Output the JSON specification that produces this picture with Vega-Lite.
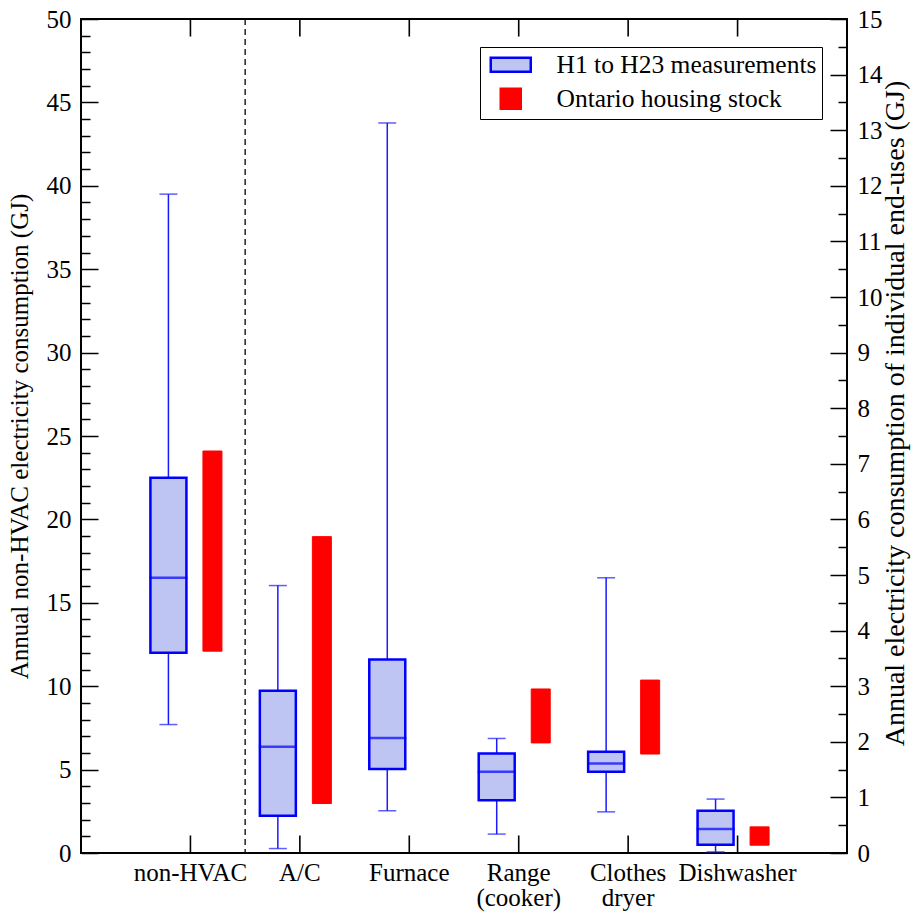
{
  "$schema": "https://vega.github.io/schema/vega-lite/v6.json",
  "width": 766,
  "height": 834,
  "autosize": {"type": "none"},
  "padding": {"left": 81, "top": 19, "right": 73, "bottom": 64},
  "background": "white",
  "config": {
    "view": {"stroke": "black", "strokeWidth": 2},
    "font": "Liberation Serif",
    "axis": {
      "labelFont": "Liberation Serif",
      "titleFont": "Liberation Serif",
      "labelFontSize": 25,
      "titleFontSize": 25,
      "titleFontWeight": "normal",
      "labelColor": "black",
      "titleColor": "black",
      "tickColor": "black",
      "tickWidth": 1.5,
      "tickOpacity": 1,
      "grid": false,
      "domain": false,
      "labelOverlap": false,
      "labelFlush": false
    }
  },
  "datasets": {
    "nonhvac_box": [
      {"category": "non-HVAC", "series": "H1 to H23 measurements", "min": 7.7, "q1": 12.0, "median": 16.5, "q3": 22.5, "max": 39.5}
    ],
    "nonhvac_stock": [
      {"category": "non-HVAC", "series": "Ontario housing stock", "low": 12.1, "high": 24.1}
    ],
    "enduse_box": [
      {"category": "A/C", "series": "H1 to H23 measurements", "min": 0.08, "q1": 0.67, "median": 1.91, "q3": 2.92, "max": 4.81},
      {"category": "Furnace", "series": "H1 to H23 measurements", "min": 0.76, "q1": 1.51, "median": 2.07, "q3": 3.48, "max": 13.13},
      {"category": "Range (cooker)", "series": "H1 to H23 measurements", "min": 0.34, "q1": 0.95, "median": 1.46, "q3": 1.79, "max": 2.06},
      {"category": "Clothes dryer", "series": "H1 to H23 measurements", "min": 0.74, "q1": 1.46, "median": 1.61, "q3": 1.82, "max": 4.95},
      {"category": "Dishwasher", "series": "H1 to H23 measurements", "min": 0.02, "q1": 0.15, "median": 0.43, "q3": 0.76, "max": 0.97}
    ],
    "enduse_stock": [
      {"category": "A/C", "series": "Ontario housing stock", "low": 0.89, "high": 5.69},
      {"category": "Range (cooker)", "series": "Ontario housing stock", "low": 1.98, "high": 2.95},
      {"category": "Clothes dryer", "series": "Ontario housing stock", "low": 1.78, "high": 3.11},
      {"category": "Dishwasher", "series": "Ontario housing stock", "low": 0.14, "high": 0.47}
    ]
  },
  "layer": [
    {
      "data": {"name": "nonhvac_box"},
      "layer": [
        {
          "mark": {"type": "rule", "strokeDash": [6, 4], "color": "black", "strokeWidth": 1.3},
          "encoding": {
            "x": {"field": "category", "type": "nominal", "bandPosition": 1, "scale": {"domain": ["non-HVAC", "A/C", "Furnace", "Range (cooker)", "Clothes dryer", "Dishwasher"], "paddingInner": 0, "paddingOuter": 0.5}, "axis": null}
          }
        },
        {
          "mark": {"type": "rule", "color": "black", "strokeWidth": 1.6},
          "encoding": {
            "x": {"field": "category", "type": "nominal", "bandPosition": 0.5, "axis": null},
            "y": {"datum": 0, "type": "quantitative", "axis": null},
            "y2": {"datum": 1.05}
          }
        },
        {
          "mark": {"type": "rule", "color": "black", "strokeWidth": 1.6},
          "encoding": {
            "x": {"field": "category", "type": "nominal", "bandPosition": 0.5, "axis": null},
            "y": {"datum": 50, "type": "quantitative", "axis": null},
            "y2": {"datum": 48.95}
          }
        },
        {
          "mark": {"type": "rule", "color": "#1a1aff", "strokeWidth": 1.5},
          "encoding": {
            "x": {"field": "category", "type": "nominal", "scale": {"domain": ["non-HVAC", "A/C", "Furnace", "Range (cooker)", "Clothes dryer", "Dishwasher"], "paddingInner": 0, "paddingOuter": 0.5},
              "axis": {"orient": "bottom", "title": null, "ticks": false, "labelPadding": 7, "labelLineHeight": 25, "labelAngle": 0,
                "labelExpr": "datum.value == 'Range (cooker)' ? ['Range', '(cooker)'] : datum.value == 'Clothes dryer' ? ['Clothes', 'dryer'] : datum.label"}},
            "xOffset": {"field": "series", "type": "nominal", "scale": {"domain": ["H1 to H23 measurements", "Ontario housing stock"], "paddingInner": 0, "paddingOuter": 0.243}},
            "y": {"field": "min", "type": "quantitative", "scale": {"domain": [0, 50], "nice": false, "zero": true},
              "axis": {"orient": "left", "title": "Annual non-HVAC electricity consumption (GJ)", "values": [0, 5, 10, 15, 20, 25, 30, 35, 40, 45, 50], "tickSize": -17, "labelPadding": 27, "titlePadding": 14}},
            "y2": {"field": "max"}
          }
        },
        {
          "mark": {"type": "tick", "color": "#1a1aff", "thickness": 1.5, "size": 18},
          "encoding": {
            "x": {"field": "category", "type": "nominal", "axis": null},
            "xOffset": {"field": "series", "type": "nominal"},
            "y": {"field": "min", "type": "quantitative", "axis": null}
          }
        },
        {
          "mark": {"type": "tick", "color": "#1a1aff", "thickness": 1.5, "size": 18},
          "encoding": {
            "x": {"field": "category", "type": "nominal", "axis": null},
            "xOffset": {"field": "series", "type": "nominal"},
            "y": {"field": "max", "type": "quantitative", "axis": null}
          }
        },
        {
          "mark": {"type": "bar", "size": 36, "strokeWidth": 2.5},
          "encoding": {
            "x": {"field": "category", "type": "nominal", "axis": null},
            "xOffset": {"field": "series", "type": "nominal"},
            "y": {"field": "q1", "type": "quantitative",
              "axis": {"orient": "left", "title": null, "labels": false, "tickSize": -9, "values": [1, 2, 3, 4, 6, 7, 8, 9, 11, 12, 13, 14, 16, 17, 18, 19, 21, 22, 23, 24, 26, 27, 28, 29, 31, 32, 33, 34, 36, 37, 38, 39, 41, 42, 43, 44, 46, 47, 48, 49]}},
            "y2": {"field": "q3"},
            "fill": {"field": "series", "type": "nominal", "scale": {"domain": ["H1 to H23 measurements", "Ontario housing stock"], "range": ["#bec5f3", "#ff0000"]},
              "legend": {"orient": "none", "legendX": 399, "legendY": 28, "title": null, "strokeColor": "black", "fillColor": "white", "padding": 5, "labelFont": "Liberation Serif", "labelFontSize": 25.5, "labelColor": "black", "labelLimit": 0, "labelOffset": 33, "symbolOffset": 13, "symbolStrokeWidth": 2.5, "symbolSize": 1600, "rowPadding": 4,
                "encode": {"symbols": {"update": {"shape": {"signal": "datum.value === 'H1 to H23 measurements' ? 'M-1,-0.35H1V0.35H-1Z' : 'square'"}, "size": {"signal": "datum.value === 'H1 to H23 measurements' ? 1600 : 400"}}}}}},
            "stroke": {"field": "series", "type": "nominal", "scale": {"domain": ["H1 to H23 measurements", "Ontario housing stock"], "range": ["#0000ff", "#ff0000"]},
              "legend": {"orient": "none", "legendX": 399, "legendY": 28, "title": null, "strokeColor": "black", "fillColor": "white", "padding": 5, "labelFont": "Liberation Serif", "labelFontSize": 25.5, "labelColor": "black", "labelLimit": 0, "labelOffset": 33, "symbolOffset": 13, "symbolStrokeWidth": 2.5, "symbolSize": 1600, "rowPadding": 4,
                "encode": {"symbols": {"update": {"shape": {"signal": "datum.value === 'H1 to H23 measurements' ? 'M-1,-0.35H1V0.35H-1Z' : 'square'"}, "size": {"signal": "datum.value === 'H1 to H23 measurements' ? 1600 : 400"}}}}}}
          }
        },
        {
          "mark": {"type": "tick", "color": "#0000ff", "thickness": 2.5, "size": 38},
          "encoding": {
            "x": {"field": "category", "type": "nominal", "axis": null},
            "xOffset": {"field": "series", "type": "nominal"},
            "y": {"field": "median", "type": "quantitative", "axis": null}
          }
        },
        {
          "data": {"name": "nonhvac_stock"},
          "mark": {"type": "bar", "size": 19, "strokeWidth": 1},
          "encoding": {
            "x": {"field": "category", "type": "nominal", "axis": null},
            "xOffset": {"field": "series", "type": "nominal"},
            "y": {"field": "low", "type": "quantitative", "axis": null},
            "y2": {"field": "high"},
            "fill": {"field": "series", "type": "nominal"},
            "stroke": {"field": "series", "type": "nominal"}
          }
        }
      ],
      "resolve": {"axis": {"y": "independent", "x": "independent"}}
    },
    {
      "data": {"name": "enduse_box"},
      "layer": [
        {
          "mark": {"type": "rule", "color": "black", "strokeWidth": 1.6},
          "encoding": {
            "x": {"field": "category", "type": "nominal", "bandPosition": 0.5, "axis": null},
            "y": {"datum": 0, "type": "quantitative", "axis": null},
            "y2": {"datum": 0.315}
          }
        },
        {
          "mark": {"type": "rule", "color": "black", "strokeWidth": 1.6},
          "encoding": {
            "x": {"field": "category", "type": "nominal", "bandPosition": 0.5, "axis": null},
            "y": {"datum": 15, "type": "quantitative", "axis": null},
            "y2": {"datum": 14.685}
          }
        },
        {
          "mark": {"type": "rule", "color": "#1a1aff", "strokeWidth": 1.5},
          "encoding": {
            "x": {"field": "category", "type": "nominal", "axis": null},
            "xOffset": {"field": "series", "type": "nominal"},
            "y": {"field": "min", "type": "quantitative", "scale": {"domain": [0, 15], "nice": false, "zero": true},
              "axis": {"orient": "right", "title": "Annual electricity consumption of individual end-uses (GJ)", "titleFontSize": 28, "titleAngle": 270, "titleX": 48, "titleY": 394, "titleBaseline": "middle", "titleAlign": "center", "values": [0, 1, 2, 3, 4, 5, 6, 7, 8, 9, 10, 11, 12, 13, 14, 15], "ticks": false, "labelPadding": 10}},
            "y2": {"field": "max"}
          }
        },
        {
          "mark": {"type": "tick", "color": "#1a1aff", "thickness": 1.5, "size": 18},
          "encoding": {
            "x": {"field": "category", "type": "nominal", "axis": null},
            "xOffset": {"field": "series", "type": "nominal"},
            "y": {"field": "min", "type": "quantitative",
              "axis": {"orient": "right", "title": null, "labels": false, "tickSize": -17, "values": [0, 1, 2, 3, 4, 5, 6, 7, 8, 9, 10, 11, 12, 13, 14, 15]}}
          }
        },
        {
          "mark": {"type": "tick", "color": "#1a1aff", "thickness": 1.5, "size": 18},
          "encoding": {
            "x": {"field": "category", "type": "nominal", "axis": null},
            "xOffset": {"field": "series", "type": "nominal"},
            "y": {"field": "max", "type": "quantitative", "axis": null}
          }
        },
        {
          "mark": {"type": "bar", "size": 36, "strokeWidth": 2.5},
          "encoding": {
            "x": {"field": "category", "type": "nominal", "axis": null},
            "xOffset": {"field": "series", "type": "nominal"},
            "y": {"field": "q1", "type": "quantitative",
              "axis": {"orient": "right", "title": null, "labels": false, "tickSize": -9, "values": [0.5, 1.5, 2.5, 3.5, 4.5, 5.5, 6.5, 7.5, 8.5, 9.5, 10.5, 11.5, 12.5, 13.5, 14.5]}},
            "y2": {"field": "q3"},
            "fill": {"field": "series", "type": "nominal"},
            "stroke": {"field": "series", "type": "nominal"}
          }
        },
        {
          "mark": {"type": "tick", "color": "#0000ff", "thickness": 2.5, "size": 38},
          "encoding": {
            "x": {"field": "category", "type": "nominal", "axis": null},
            "xOffset": {"field": "series", "type": "nominal"},
            "y": {"field": "median", "type": "quantitative", "axis": null}
          }
        },
        {
          "data": {"name": "enduse_stock"},
          "mark": {"type": "bar", "size": 19, "strokeWidth": 1},
          "encoding": {
            "x": {"field": "category", "type": "nominal", "axis": null},
            "xOffset": {"field": "series", "type": "nominal"},
            "y": {"field": "low", "type": "quantitative", "axis": null},
            "y2": {"field": "high"},
            "fill": {"field": "series", "type": "nominal"},
            "stroke": {"field": "series", "type": "nominal"}
          }
        }
      ],
      "resolve": {"axis": {"y": "independent", "x": "independent"}}
    }
  ],
  "resolve": {"scale": {"y": "independent"}, "axis": {"y": "independent", "x": "independent"}}
}
